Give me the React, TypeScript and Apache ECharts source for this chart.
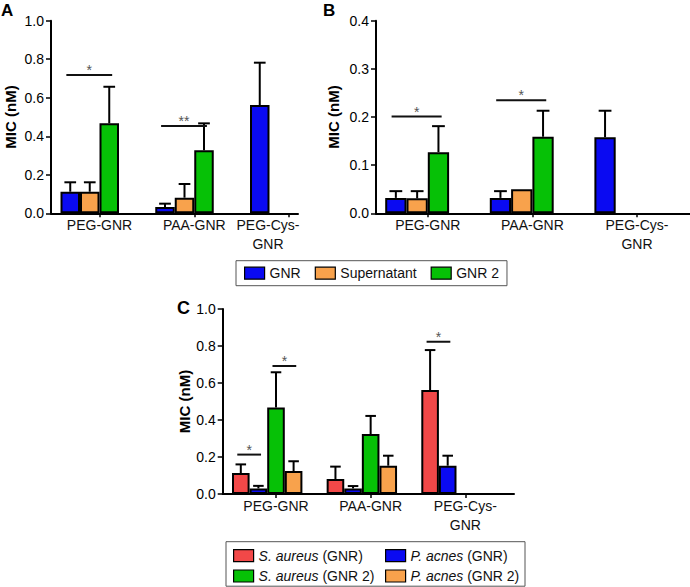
import React, { useEffect, useRef } from 'react';
import * as echarts from 'echarts';

// ---------- data ----------
const CATEGORIES = ['PEG-GNR', 'PAA-GNR', 'PEG-Cys-GNR'];

// Panel A (MIC, nM): mean and upper SD
const A_GNR = [0.112, 0.033, 0.562];
const A_GNR_SD = [0.049, 0.017, 0.22];
const A_SUP = [0.112, 0.081];
const A_SUP_SD = [0.049, 0.071];
const A_GNR2 = [0.467, 0.327];
const A_GNR2_SD = [0.19, 0.14];
// [category, fromSeries, toSeries, y, label]
const A_SIG: [number, number, number, number, string][] = [
  [0, 0, 2, 0.718, '*'],
  [1, 0, 2, 0.453, '**'],
];

// Panel B
const B_GNR = [0.032, 0.032, 0.158];
const B_GNR_SD = [0.014, 0.014, 0.055];
const B_SUP = [0.031, 0.05];
const B_SUP_SD = [0.015, null];
const B_GNR2 = [0.127, 0.159];
const B_GNR2_SD = [0.054, 0.054];
const B_SIG: [number, number, number, number, string][] = [
  [0, 0, 2, 0.201, '*'],
  [1, 0, 2, 0.235, '*'],
];

// Panel C
const C_SA_GNR = [0.113, 0.081, 0.562];
const C_SA_GNR_SD = [0.047, 0.067, 0.216];
const C_PA_GNR = [0.03, 0.03, 0.153];
const C_PA_GNR_SD = [0.014, 0.013, 0.054];
const C_SA_GNR2 = [0.468, 0.324];
const C_SA_GNR2_SD = [0.19, 0.098];
const C_PA_GNR2 = [0.124, 0.153];
const C_PA_GNR2_SD = [0.053, 0.054];
const C_SIG: [number, number, number, number, string][] = [
  [0, 0, 1, 0.213, '*'],
  [0, 2, 3, 0.692, '*'],
  [2, 0, 1, 0.823, '*'],
];

const Y_TICKS_AC = [0, 0.2, 0.4, 0.6, 0.8, 1.0];
const Y_TICKS_B = [0, 0.1, 0.2, 0.3, 0.4];

// ---------- styles / layout ----------
const FONT = "'Liberation Sans', Arial, Helvetica, sans-serif";
const BLUE = '#0a0af2';
const ORANGE = '#f8a24c';
const GREEN = '#06c106';
const RED = '#f24848';

const GEOM = [
  { left: 51, top: 20.7, right: 298, bottom: 213.3, x0: 99.5, unit: 94.75, bw: 19.5, slots: 4, ticks: Y_TICKS_AC, nameGap: 33 },
  { left: 376, top: 20.7, right: 690, bottom: 213.3, x0: 427.8, unit: 104.6, bw: 21.3, slots: 4, ticks: Y_TICKS_B, nameGap: 35 },
  { left: 222.7, top: 309, right: 514, bottom: 494, x0: 276, unit: 94.65, bw: 17.6, slots: 5, ticks: Y_TICKS_AC, nameGap: 29 },
];

type S = { name: string; color: string; values: (number | null)[]; sd: (number | null)[] };

const PANELS: { series: S[]; sig: [number, number, number, number, string][] }[] = [
  {
    series: [
      { name: 'GNR', color: BLUE, values: A_GNR, sd: A_GNR_SD },
      { name: 'Supernatant', color: ORANGE, values: A_SUP, sd: A_SUP_SD },
      { name: 'GNR 2', color: GREEN, values: A_GNR2, sd: A_GNR2_SD },
    ],
    sig: A_SIG,
  },
  {
    series: [
      { name: 'GNR', color: BLUE, values: B_GNR, sd: B_GNR_SD },
      { name: 'Supernatant', color: ORANGE, values: B_SUP, sd: B_SUP_SD },
      { name: 'GNR 2', color: GREEN, values: B_GNR2, sd: B_GNR2_SD },
    ],
    sig: B_SIG,
  },
  {
    series: [
      { name: 'S. aureus (GNR)', color: RED, values: C_SA_GNR, sd: C_SA_GNR_SD },
      { name: 'P. acnes (GNR)', color: BLUE, values: C_PA_GNR, sd: C_PA_GNR_SD },
      { name: 'S. aureus (GNR 2)', color: GREEN, values: C_SA_GNR2, sd: C_SA_GNR2_SD },
      { name: 'P. acnes (GNR 2)', color: ORANGE, values: C_PA_GNR2, sd: C_PA_GNR2_SD },
    ],
    sig: C_SIG,
  },
];

function buildOption() {
  const grids: any[] = [];
  const xAxes: any[] = [];
  const yAxes: any[] = [];
  const series: any[] = [];

  PANELS.forEach((panel, p) => {
    const g = GEOM[p];
    grids.push({ left: g.left, top: g.top, width: g.right - g.left, height: g.bottom - g.top, outerBoundsMode: 'none', containLabel: false });
    const labelIdx = CATEGORIES.map((_, i) => i);
    xAxes.push({
      type: 'value',
      gridIndex: p,
      min: (g.left - g.x0) / g.unit,
      max: (g.right - g.x0) / g.unit,
      splitLine: { show: false },
      axisLine: { show: true, onZero: false, lineStyle: { color: '#000', width: 2 } },
      axisTick: { show: true, customValues: labelIdx, length: 4, lineStyle: { color: '#000', width: 1.5 } },
      axisLabel: {
        show: true,
        customValues: labelIdx,
        margin: 2,
        fontSize: 14,
        lineHeight: 19,
        color: '#111',
        fontFamily: FONT,
        formatter: (v: number) => {
          const i = Math.round(v);
          const name = CATEGORIES[i] || '';
          const parts = name.replace('Cys-', 'Cys-\n').split('\n');
          if (p === 0 && i === 2) return parts.map((t) => `{sh|${t}}`).join('\n');
          return parts.join('\n');
        },
        rich: { sh: { padding: [0, 42, 0, 0], fontSize: 14, lineHeight: 19, color: '#111', fontFamily: FONT } },
      },
    });
    const ticks = g.ticks;
    yAxes.push({
      type: 'value',
      gridIndex: p,
      min: ticks[0],
      max: ticks[ticks.length - 1],
      interval: ticks[1] - ticks[0],
      name: 'MIC (nM)',
      nameLocation: 'middle',
      nameGap: g.nameGap,
      nameTextStyle: { fontWeight: 'bold', fontSize: 15, color: '#000', fontFamily: FONT },
      splitLine: { show: false },
      axisLine: { show: true, onZero: false, lineStyle: { color: '#000', width: 2 } },
      axisTick: { show: true, length: 5, lineStyle: { color: '#000', width: 1.5 } },
      axisLabel: { fontSize: 14, color: '#000', margin: 7, fontFamily: FONT, formatter: (v: number) => v.toFixed(1) },
    });

    const slotOffset = (si: number) => (si - (g.slots - 1) / 2) * g.bw;

    panel.series.forEach((s) => {
      series.push({
        type: 'bar',
        name: s.name,
        xAxisIndex: p,
        yAxisIndex: p,
        barWidth: g.bw,
        barGap: '0%',
        data: s.values.map((v, i) => (v == null ? null : [i, v])).filter((d) => d != null),
        itemStyle: { color: s.color, borderColor: '#000', borderWidth: 2 },
        z: 2,
      });
    });
    // empty slot reserved at the end of each group (as in the original layout)
    series.push({
      type: 'bar',
      name: '__slot' + p,
      xAxisIndex: p,
      yAxisIndex: p,
      barWidth: g.bw,
      barGap: '0%',
      data: [],
      silent: true,
    });

    // error bars
    const errData: number[][] = [];
    panel.series.forEach((s, si) => {
      s.values.forEach((v, i) => {
        const sd = s.sd[i];
        if (v != null && sd != null) errData.push([i, v, v + sd, si]);
      });
    });
    series.push({
      type: 'custom',
      name: '__err' + p,
      xAxisIndex: p,
      yAxisIndex: p,
      z: 3,
      silent: true,
      encode: { x: 0, y: 1 },
      data: errData,
      renderItem: (params: any, api: any) => {
        const x = api.value(0);
        const base = api.coord([x, api.value(1)]);
        const top = api.coord([x, api.value(2)]);
        const cx = base[0] + slotOffset(api.value(3));
        const cw = g.bw * 0.6;
        return {
          type: 'group',
          children: [
            { type: 'line', shape: { x1: cx, y1: base[1], x2: cx, y2: top[1] }, style: { stroke: '#000', lineWidth: 2 } },
            { type: 'line', shape: { x1: cx - cw / 2, y1: top[1], x2: cx + cw / 2, y2: top[1] }, style: { stroke: '#000', lineWidth: 2 } },
          ],
        };
      },
    });

    // significance brackets
    series.push({
      type: 'custom',
      name: '__sig' + p,
      xAxisIndex: p,
      yAxisIndex: p,
      z: 3,
      silent: true,
      encode: { x: 0, y: 1 },
      data: panel.sig.map((s) => [s[0], s[3]]),
      renderItem: (params: any, api: any) => {
        const s = panel.sig[params.dataIndex];
        const pt = api.coord([api.value(0), api.value(1)]);
        const x1 = pt[0] + slotOffset(s[1]) - 0.2 * g.bw;
        const x2 = pt[0] + slotOffset(s[2]) + 0.15 * g.bw;
        return {
          type: 'group',
          children: [
            { type: 'line', shape: { x1, y1: pt[1], x2, y2: pt[1] }, style: { stroke: '#111', lineWidth: 2 } },
            {
              type: 'text',
              style: { x: (x1 + x2) / 2, y: pt[1] - 5, text: s[4], fill: '#555', fontSize: 14, fontFamily: FONT, align: 'center', verticalAlign: 'middle' },
            },
          ],
        };
      },
    });
  });

  const richName = (name: string) => {
    const m = name.match(/^(\S+ \S+)(.*)$/);
    return m ? `{i|${m[1]}}${m[2]}` : name;
  };
  const legendText = { fontSize: 14, lineHeight: 14, color: '#111', fontFamily: FONT };
  const legend2Common = {
    orient: 'vertical',
    top: 548.7,
    padding: 0,
    itemWidth: 20,
    itemHeight: 12,
    itemGap: 6.3,
    icon: 'rect',
    selectedMode: false,
    itemStyle: { borderColor: '#000', borderWidth: 1.2 },
    formatter: richName,
    textStyle: { ...legendText, rich: { i: { fontStyle: 'italic', fontSize: 14, lineHeight: 14, color: '#111', fontFamily: FONT } } },
  };

  return {
    animation: false,
    backgroundColor: '#fff',
    textStyle: { fontFamily: FONT },
    grid: grids,
    xAxis: xAxes,
    yAxis: yAxes,
    series,
    legend: [
      {
        data: ['GNR', 'Supernatant', 'GNR 2'],
        left: 236,
        top: 260.7,
        padding: [5.5, 8],
        itemWidth: 20,
        itemHeight: 12,
        itemGap: 14,
        icon: 'rect',
        selectedMode: false,
        borderColor: '#555',
        borderWidth: 1,
        itemStyle: { borderColor: '#000', borderWidth: 1.2 },
        textStyle: legendText,
      },
      { ...legend2Common, left: 233, data: ['S. aureus (GNR)', 'S. aureus (GNR 2)'] },
      { ...legend2Common, left: 385, data: ['P. acnes (GNR)', 'P. acnes (GNR 2)'] },
    ],
    graphic: [
      { type: 'text', x: 1, y: 1.5, style: { text: 'A', fontSize: 17, fontWeight: 'bold', fill: '#000', fontFamily: FONT } },
      { type: 'text', x: 323, y: 1.5, style: { text: 'B', fontSize: 17, fontWeight: 'bold', fill: '#000', fontFamily: FONT } },
      { type: 'text', x: 177, y: 298.5, style: { text: 'C', fontSize: 18, fontWeight: 'bold', fill: '#000', fontFamily: FONT } },
      { type: 'rect', shape: { x: 226, y: 541.7, width: 299, height: 44.5 }, style: { fill: 'none', stroke: '#555', lineWidth: 1 } },
    ],
  };
}

export default function App() {
  const ref = useRef<HTMLDivElement>(null);
  useEffect(() => {
    if (!ref.current) return;
    const chart = echarts.init(ref.current, null, { renderer: 'svg' });
    chart.setOption(buildOption() as any);
    return () => chart.dispose();
  }, []);
  return (
    <div
      ref={ref}
      style={{ position: 'fixed', left: 0, top: 0, width: 690, height: 587, background: '#fff' }}
    />
  );
}
